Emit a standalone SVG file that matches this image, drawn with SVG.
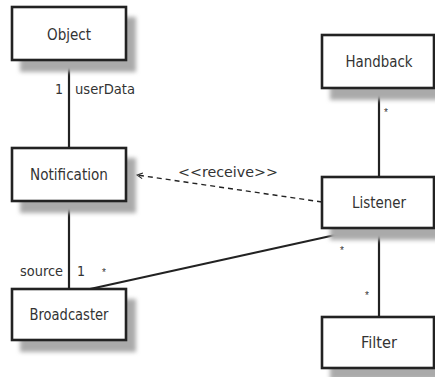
<svg xmlns="http://www.w3.org/2000/svg" width="435" height="377" viewBox="0 0 435 377">
<defs>
<filter id="blur" x="-20%" y="-20%" width="140%" height="140%"><feGaussianBlur stdDeviation="2"/></filter>
<marker id="open" viewBox="0 0 10 10" refX="9" refY="5" markerWidth="7" markerHeight="7" orient="auto" markerUnits="userSpaceOnUse">
<path d="M1,1 L9,5 L1,9" fill="none" stroke="#222" stroke-width="1.4"/>
</marker>
</defs>
<style>
.box{fill:#fff;stroke:#222;stroke-width:2.6}
.sh{fill:#aaa;filter:url(#blur)}
.t{font-family:"Liberation Sans Narrow","DejaVu Sans Condensed","Liberation Sans",sans-serif;font-size:15px;fill:#333;text-anchor:middle}
.l{font-family:"Liberation Sans Narrow","DejaVu Sans Condensed","Liberation Sans",sans-serif;font-size:14px;fill:#333}
.s{font-family:"Liberation Sans",sans-serif;font-size:10px;fill:#333}
.c{stroke:#222;stroke-width:2.2;fill:none}
.d{stroke:#222;stroke-width:1.4;fill:none;stroke-dasharray:5,4}
</style>
<rect width="435" height="377" fill="#fff"/>
<g id="connectors">
<line class="c" x1="69" y1="60" x2="69" y2="148"/>
<line class="c" x1="69" y1="201" x2="69" y2="289"/>
<line class="c" x1="90" y1="289" x2="367" y2="228"/>
<line class="c" x1="379" y1="88" x2="379" y2="177"/>
<line class="c" x1="379" y1="228" x2="379" y2="317"/>
<line class="d" x1="322" y1="202" x2="137" y2="175" marker-end="url(#open)"/>
<text class="l" x="55" y="94" textLength="7">1</text>
<text class="l" x="75" y="94" textLength="60" lengthAdjust="spacingAndGlyphs">userData</text>
<text class="l" x="20" y="276" textLength="43" lengthAdjust="spacingAndGlyphs">source</text>
<text class="l" x="77" y="276" textLength="6">1</text>
<text class="s" x="102" y="276">*</text>
<text class="l" x="178" y="177" textLength="100" lengthAdjust="spacingAndGlyphs">&lt;&lt;receive&gt;&gt;</text>
<text class="s" x="384" y="116">*</text>
<text class="s" x="340" y="254">*</text>
<text class="s" x="365" y="299">*</text>
</g>
<g id="Object">
<rect class="sh" x="20" y="17" width="116" height="55"/>
<rect class="box" x="12" y="7" width="114" height="53"/>
<text class="t" x="69" y="40" textLength="44" lengthAdjust="spacingAndGlyphs">Object</text>
</g>
<g id="Notification">
<rect class="sh" x="20" y="158" width="116" height="55"/>
<rect class="box" x="12" y="148" width="114" height="53"/>
<text class="t" x="69" y="180" textLength="78" lengthAdjust="spacingAndGlyphs">Notification</text>
</g>
<g id="Broadcaster">
<rect class="sh" x="20" y="299" width="116" height="53"/>
<rect class="box" x="12" y="289" width="114" height="51"/>
<text class="t" x="69" y="320" textLength="79" lengthAdjust="spacingAndGlyphs">Broadcaster</text>
</g>
<g id="Handback">
<rect class="sh" x="330" y="46" width="116" height="54"/>
<rect class="box" x="322" y="35" width="112" height="53"/>
<text class="t" x="379" y="67" textLength="67" lengthAdjust="spacingAndGlyphs">Handback</text>
</g>
<g id="Listener">
<rect class="sh" x="330" y="188" width="116" height="52"/>
<rect class="box" x="322" y="177" width="112" height="51"/>
<text class="t" x="379" y="208" textLength="54" lengthAdjust="spacingAndGlyphs">Listener</text>
</g>
<g id="Filter">
<rect class="sh" x="330" y="328" width="116" height="52"/>
<rect class="box" x="322" y="317" width="112" height="51"/>
<text class="t" x="379" y="348" textLength="36" lengthAdjust="spacingAndGlyphs">Filter</text>
</g>
</svg>
